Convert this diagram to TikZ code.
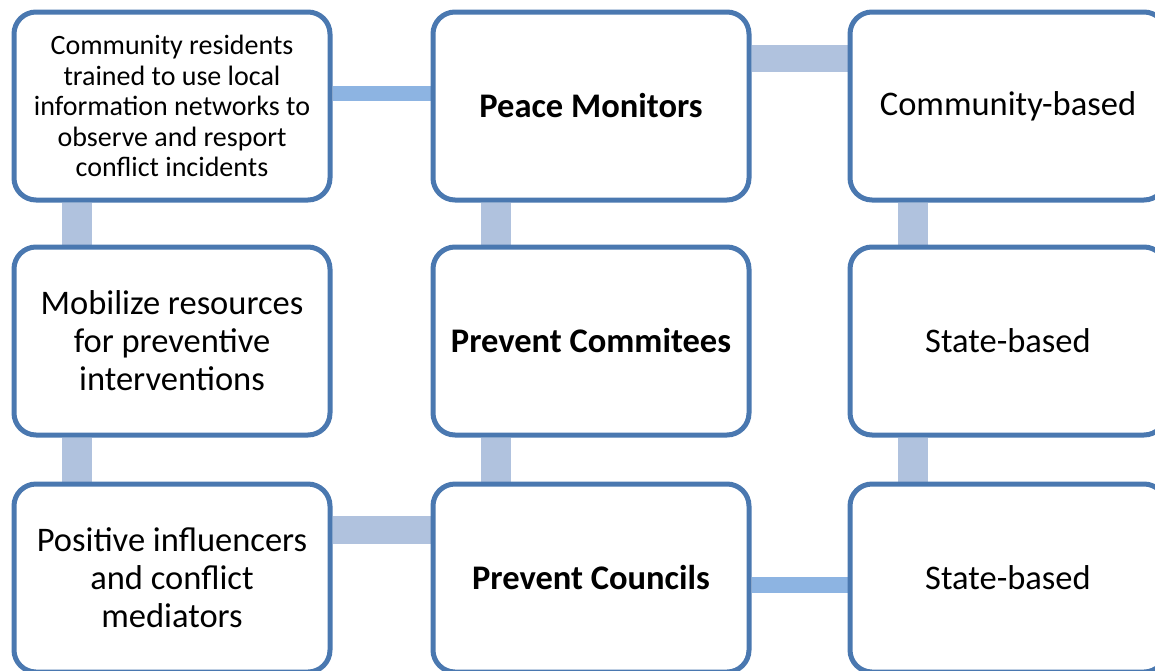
\documentclass[tikz,border=0pt]{standalone}
\usepackage{fontspec}
\setmainfont{Carlito}
\usetikzlibrary{backgrounds}
\definecolor{boxline}{RGB}{74,120,176}
\definecolor{barblue}{RGB}{141,180,226}
\definecolor{bargrey}{RGB}{176,194,222}
\tikzset{
  card/.style={draw=boxline, line width=5pt, rounded corners=22pt, fill=white,
    minimum width=316pt, minimum height=188pt, inner sep=0pt, align=center,
    font=\fontsize{34.5}{38}\selectfont},
  thinbar/.style={barblue, line width=15pt},
  widebar/.style={bargrey, line width=28pt}
}
\begin{document}
\begin{tikzpicture}[x=1pt,y=-1pt]
  \useasboundingbox (0,0) rectangle (1155,670);
  % left column
  \node [card, font=\fontsize{28}{30.5}\selectfont] (residents) at (172,106) {Community residents\\trained to use local\\information networks to\\observe and resport\\conflict incidents};
  \node [card] (mobilize) at (172,341) {Mobilize resources\\for preventive\\interventions};
  \node [card] (influencers) at (172,578) {Positive influencers\\and conflict\\mediators};
  % middle column
  \node [card, font=\fontsize{34.5}{38}\selectfont\bfseries] (monitors) at (591,106) {Peace Monitors};
  \node [card, font=\fontsize{34.5}{38}\selectfont\bfseries] (committees) at (591,341) {Prevent Commitees};
  \node [card, font=\fontsize{34.5}{38}\selectfont\bfseries] (councils) at (591,578) {Prevent Councils};
  % right column
  \node [card] (community) at (1008,106) {Community-based};
  \node [card] (state1) at (1008,341) {State-based};
  \node [card] (state2) at (1008,578) {State-based};
  \begin{scope}[on background layer]
    \draw [thinbar] ([yshift=13pt]residents.east) -- ([yshift=13pt]monitors.west);
    \draw [widebar, line width=27pt] ([yshift=48pt]monitors.east) -- ([yshift=48pt]community.west);
    \draw [widebar] ([yshift=48pt]influencers.east) -- ([yshift=48pt]councils.west);
    \draw [thinbar, line width=16pt] ([yshift=-7pt]councils.east) -- ([yshift=-7pt]state2.west);
    \draw [widebar, line width=30pt] ([xshift=-95pt]residents.south) -- ([xshift=-95pt]mobilize.north);
    \draw [widebar, line width=30pt] ([xshift=-95pt]mobilize.south) -- ([xshift=-95pt]influencers.north);
    \draw [widebar, line width=30pt] ([xshift=-95pt]monitors.south) -- ([xshift=-95pt]committees.north);
    \draw [widebar, line width=30pt] ([xshift=-95pt]committees.south) -- ([xshift=-95pt]councils.north);
    \draw [widebar, line width=30pt] ([xshift=-95pt]community.south) -- ([xshift=-95pt]state1.north);
    \draw [widebar, line width=30pt] ([xshift=-95pt]state1.south) -- ([xshift=-95pt]state2.north);
  \end{scope}
\end{tikzpicture}
\end{document}
